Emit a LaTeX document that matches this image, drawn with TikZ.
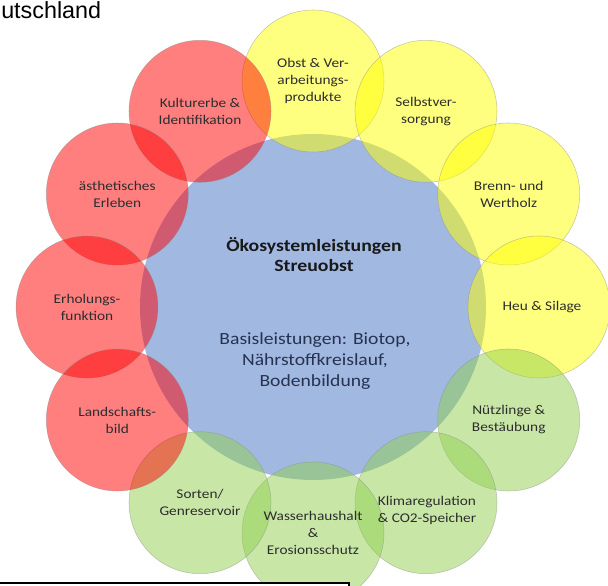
\documentclass[tikz,border=0pt]{standalone}
\usepackage{fontspec}
\setmainfont{Carlito}[FakeStretch=1.15]
\newfontfamily\arialfont{Liberation Sans}
\usetikzlibrary{calc}
\definecolor{cred}{RGB}{255,0,0}
\definecolor{cyel}{RGB}{255,255,0}
\definecolor{cgrn}{RGB}{146,208,80}
\definecolor{cblu}{RGB}{68,114,196}
\definecolor{ctxt}{RGB}{45,45,45}
\definecolor{cnavy}{RGB}{38,50,80}
\begin{document}
\begin{tikzpicture}[x=0.75pt,y=0.75pt,
  ring/.style={circle, minimum size=106.5pt, inner sep=0pt, fill opacity=0.5,
    draw=black!45, draw opacity=0.5, line width=0.4pt},
  lbl/.style={align=center, text=ctxt, inner sep=0pt, font=\fontsize{10}{12.75}\selectfont},
  titlestyle/.style={align=center, text=black!90, inner sep=0pt, font=\bfseries\fontsize{12.9}{15}\selectfont},
  basisstyle/.style={align=center, text=cnavy, inner sep=0pt, font=\fontsize{12.8}{15.75}\selectfont}]
\useasboundingbox (0,0) rectangle (608,586);
\clip (0,0) rectangle (608,586);
\fill[white] (0,0) rectangle (608,586);
\coordinate (c) at (313,279);
\node[circle, minimum size=259.5pt, inner sep=0pt, fill=cblu, fill opacity=0.5] (centre) at (c) {};
% yellow circles
\foreach \a/\n in {90/obst, 60/selbst, 30/brenn, 0/heu}
  \node[ring, fill=cyel] (\n) at ($(c)+(\a:226)$) {};
% green circles
\foreach \a/\n in {-30/nuetz, -60/klima, -90/wasser, -120/sorten}
  \node[ring, fill=cgrn] (\n) at ($(c)+(\a:226)$) {};
% red circles
\foreach \a/\n in {120/kultur, 150/aesth, 180/erhol, -150/land}
  \node[ring, fill=cred] (\n) at ($(c)+(\a:226)$) {};
% labels
\node[lbl] (tobst) at (obst) {Obst \& Ver-\\arbeitungs-\\produkte};
\node[lbl] (tselbst) at (selbst) {Selbstver-\\sorgung};
\node[lbl] (tbrenn) at (brenn) {Brenn- und\\Wertholz};
\node[lbl] (theu) at ($(heu)+(3,0)$) {Heu \& Silage};
\node[lbl] (tnuetz) at (nuetz) {Nützlinge \&\\Bestäubung};
\node[lbl] (tklima) at ($(klima)+(1,-8)$) {Klimaregulation\\\& CO2-Speicher};
\node[lbl] (twasser) at (wasser) {Wasserhaushalt\\\&\\Erosionsschutz};
\node[lbl] (tsorten) at (sorten) {Sorten/\\Genreservoir};
\node[lbl] (tland) at (land) {Landschafts-\\bild};
\node[lbl] (terhol) at (erhol) {Erholungs-\\funktion};
\node[lbl] (taesth) at (aesth) {ästhetisches\\Erleben};
\node[lbl] (tkultur) at (kultur) {Kulturerbe \&\\Identifikation};
\node[titlestyle] (title) at (314,331) {Ökosystemleistungen\\Streuobst};
\node[basisstyle] (basis) at (315,225) {Basisleistungen: Biotop,\\Nährstoffkreislauf,\\Bodenbildung};
% caption fragment
\node[anchor=base west, inner sep=0pt, font=\arialfont\fontsize{17.5}{20}\selectfont] (caption) at (1,567.5) {utschland};
% bottom box
\filldraw[fill=white, draw=black, line width=1.5pt] (-5,3) rectangle (349,-20);
\end{tikzpicture}
\end{document}
